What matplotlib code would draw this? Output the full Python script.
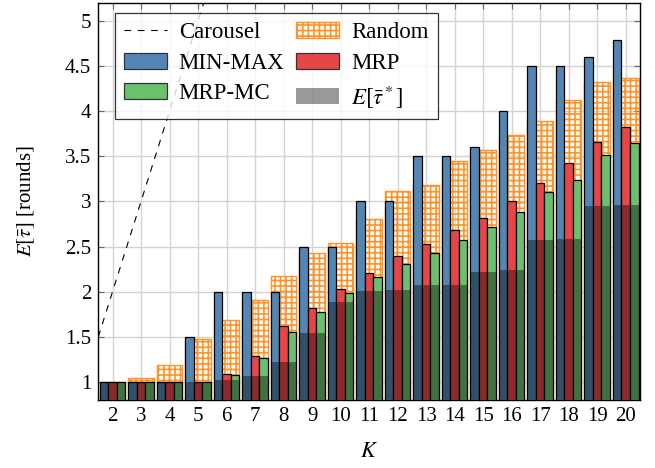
import numpy as np
import matplotlib
matplotlib.use("Agg")
import matplotlib.pyplot as plt
from matplotlib.patches import Patch
from matplotlib.lines import Line2D

# ─────────────────────────────────────────────
# DATOS
# ─────────────────────────────────────────────
K = [2, 3, 4, 5, 6, 7, 8, 9, 10, 11, 12, 13, 14, 15, 16, 17, 18, 19, 20]

min_max = [1.0, 1.0, 1.0, 1.5, 2.0, 2.0, 2.0, 2.5, 2.5, 3.0,
           3.0, 3.5, 3.5, 3.6, 4.0, 4.5, 4.5, 4.6, 4.79]
random_ = [1.0, 1.04, 1.19, 1.48, 1.69, 1.91, 2.18, 2.43, 2.54, 2.81,
           3.12, 3.18, 3.45, 3.57, 3.74, 3.89, 4.12, 4.32, 4.37]
mrp     = [1.0, 1.0, 1.0, 1.0, 1.09, 1.29, 1.62, 1.82, 2.03, 2.21,
           2.40, 2.53, 2.68, 2.82, 3.01, 3.20, 3.43, 3.66, 3.82]
mrp_mc  = [1.0, 1.0, 1.0, 1.0, 1.08, 1.27, 1.56, 1.78, 1.99, 2.16,
           2.31, 2.43, 2.57, 2.72, 2.88, 3.10, 3.24, 3.51, 3.65]
e_opt   = [1.0, 1.0, 1.0, 1.0, 1.02, 1.07, 1.22, 1.54, 1.89, 2.01,
           2.02, 2.07, 2.07, 2.22, 2.24, 2.57, 2.58, 2.95, 2.96]

carousel_x = [1.5, 2, 3, 4, 5, 6]
carousel_y = [1.5, 2, 3, 4, 5, 6]

yticks = [1, 1.5, 2, 2.5, 3, 3.5, 4, 4.5, 5]

# ─────────────────────────────────────────────
# ESTILO
# ─────────────────────────────────────────────
plt.rcParams["font.family"] = ["Liberation Serif", "DejaVu Serif"]
plt.rcParams["mathtext.fontset"] = "stix"
plt.rcParams["hatch.linewidth"] = 1.2

BLUE, RED, GREEN = "#5586B3", "#E84548", "#6CBF6C"
ORANGE = "#FF9326"
GRID = "#D3D3D3"
W = 0.3

x = np.array(K, dtype=float)

fig = plt.figure(figsize=(6.55, 4.68), dpi=100)
ax = fig.add_axes([0.150, 0.145, 0.827, 0.849])

ax.bar(x, random_, width=3 * W, bottom=0, facecolor="none",
       edgecolor=ORANGE, hatch="+++", linewidth=1.0, zorder=2)
ax.bar(x - W, min_max, width=W, color=BLUE, edgecolor="black",
       linewidth=0.9, zorder=3)
ax.bar(x, mrp, width=W, color=RED, edgecolor="black",
       linewidth=0.9, zorder=3)
ax.bar(x + W, mrp_mc, width=W, color=GREEN, edgecolor="black",
       linewidth=0.9, zorder=3)
ax.bar(x, e_opt, width=3 * W, color="black", alpha=0.4,
       linewidth=0, zorder=4)
ax.plot(carousel_x, carousel_y, color="black", linewidth=0.8,
        linestyle=(0, (6, 6)), zorder=5)

ax.set_xlim(1.5, 20.5)
ax.set_ylim(0.8, 5.2)
ax.set_xticks(K)
ax.set_xticklabels([str(k) for k in K])
ax.set_yticks(yticks)
ax.set_yticklabels([f"{t:g}" for t in yticks])

ax.set_axisbelow(True)
ax.grid(True, color=GRID, linewidth=1.0)
ax.tick_params(direction="in", length=4, width=0.8, color="#666666",
               labelsize=15, top=True, right=True, pad=5)
for s in ax.spines.values():
    s.set_linewidth(1.0)
    s.set_color("black")

ax.set_xlabel(r"$K$", fontsize=16, labelpad=12)
ax.set_ylabel(r"$E[\bar{\tau}]$ [rounds]", fontsize=15, labelpad=20)

handles = [
    Line2D([0], [0], color="black", linewidth=0.8, linestyle=(0, (6, 6))),
    Patch(facecolor=BLUE, edgecolor="#333333", linewidth=0.9),
    Patch(facecolor=GREEN, edgecolor="#333333", linewidth=0.9),
    Patch(facecolor="white", edgecolor=ORANGE, hatch="+++", linewidth=1.0),
    Patch(facecolor=RED, edgecolor="#333333", linewidth=0.9),
    Patch(facecolor="black", alpha=0.4, linewidth=0),
]
labels = ["Carousel", "MIN-MAX", "MRP-MC", "Random", "MRP",
          r"$E[\bar{\tau}^*]$"]
leg = ax.legend(handles, labels, loc="upper left", ncol=2, fontsize=16.5,
                bbox_to_anchor=(0.03, 0.975), frameon=True, fancybox=False,
                handlelength=1.9, handleheight=0.7, handletextpad=0.5,
                columnspacing=0.5, labelspacing=0.42, borderpad=0.4,
                borderaxespad=0)
leg.get_frame().set_edgecolor("black")
leg.get_frame().set_linewidth(0.9)
leg.set_zorder(10)

plt.savefig("out.png", dpi=100)
print("Guardado: out.png")
